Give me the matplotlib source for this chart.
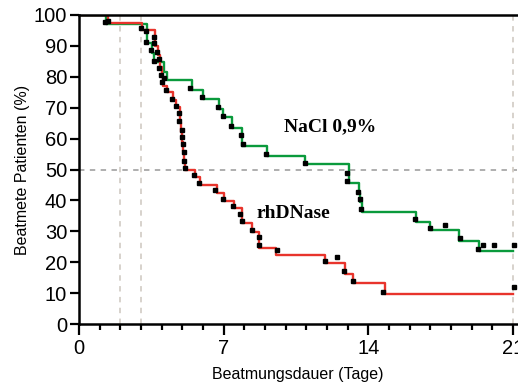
import matplotlib
matplotlib.use("Agg")
import matplotlib.pyplot as plt
from matplotlib.ticker import MultipleLocator

# Kaplan-Meier steps (days, % still ventilated)
nacl_t = [0, 1.3, 3.28, 3.52, 3.65, 4.12, 4.28, 5.45, 5.98, 6.77, 6.97, 7.4,
          7.9, 9.1, 10.95, 13.05, 13.55, 13.62, 13.7, 16.3, 17.0, 18.4, 19.35, 21]
nacl_s = [100, 97.0, 90.8, 87.6, 84.9, 81.7, 79.0, 75.7, 72.7, 69.5, 66.9, 63.3,
          57.7, 54.4, 51.7, 45.5, 42.3, 39.4, 36.4, 33.1, 30.4, 27.0, 23.7, 23.7]

dnase_t = [0, 1.4, 3.04, 3.7, 3.8, 3.9, 4.0, 4.05, 4.25, 4.57, 4.68, 4.9, 4.95,
           5.0, 5.05, 5.1, 5.15, 5.63, 5.87, 6.67, 7.03, 7.5, 7.87, 8.38, 8.72,
           9.54, 11.9, 12.86, 13.25, 14.8, 21]
dnase_s = [100, 97.3, 95.1, 90.0, 87.0, 83.3, 80.1, 77.0, 75.2, 72.5, 70.1, 65.0,
           62.0, 59.0, 56.0, 53.0, 50.0, 47.7, 45.0, 42.5, 39.9, 37.4, 32.6, 29.9,
           24.7, 22.3, 19.6, 16.2, 13.2, 9.7, 9.7]

# censored observations (black squares)
cens_x = [1.42, 1.26, 3.0, 3.25, 3.64, 3.64, 3.25, 3.48, 3.77, 3.86, 3.64, 3.86,
          3.96, 4.1, 4.0, 4.2, 4.49, 4.69, 4.85, 4.85, 5.0, 5.0, 5.03, 5.1, 5.1,
          5.15, 5.57, 5.35, 5.97, 6.75, 5.8, 6.57, 6.97, 7.46, 7.8, 7.87, 8.35,
          8.69, 8.69, 9.56, 11.89, 12.5, 12.83, 13.25, 14.73, 9.06, 10.93, 12.95,
          12.95, 13.5, 13.58, 13.66, 6.97, 7.37, 7.84, 7.94, 16.27, 17.0, 17.73,
          18.46, 19.33, 19.57, 20.1, 21.07, 21.06]
cens_y = [98.2, 97.6, 95.9, 94.8, 92.9, 91.0, 91.3, 88.7, 88.1, 85.9, 85.1, 83.0,
          80.6, 79.5, 78.2, 75.7, 72.8, 70.6, 68.2, 65.8, 62.8, 60.6, 58.3, 55.8,
          52.9, 50.6, 48.2, 76.4, 73.5, 70.2, 45.7, 43.5, 40.5, 38.2, 35.6, 33.3,
          30.5, 28.2, 25.7, 24.1, 20.5, 21.8, 17.3, 13.9, 10.4, 55.0, 52.0, 49.0,
          46.2, 42.7, 40.4, 37.2, 67.4, 64.1, 61.2, 58.3, 34.0, 31.1, 32.0, 27.8,
          24.3, 25.6, 25.6, 25.6, 12.0]

green = "#0a9a3c"
red = "#e8342c"

fig = plt.figure(figsize=(5.18, 3.82), dpi=100)
ax = fig.add_axes([79 / 518, 58 / 382, 438 / 518, 309 / 382])

# reference lines
ax.axhline(50, color="#a8a8a8", lw=1.3, ls=(0, (3, 3)), zorder=1)
for xv in [2, 3, 21]:
    ax.axvline(xv, color="#d4cfc8", lw=1.3, ls=(0, (3, 3)), zorder=1)

ax.step(nacl_t, nacl_s, where="post", color=green, lw=1.7, zorder=2)
ax.step(dnase_t, dnase_s, where="post", color=red, lw=1.7, zorder=2)
ax.plot(cens_x, cens_y, ls="none", marker="s", ms=3.5, color="black",
        clip_on=False, zorder=3)

ax.text(9.9, 63.8, "NaCl 0,9%", family="Liberation Serif", fontweight="bold",
        fontsize=14, va="center", ha="left")
ax.text(8.6, 35.9, "rhDNase", family="Liberation Serif", fontweight="bold",
        fontsize=14, va="center", ha="left")

ax.set_xlim(0, 21.2)
ax.set_ylim(0, 100)
ax.xaxis.set_major_locator(MultipleLocator(7))
ax.xaxis.set_minor_locator(MultipleLocator(1))
ax.yaxis.set_major_locator(MultipleLocator(10))

for side in ["left", "bottom", "top"]:
    ax.spines[side].set_linewidth(1.8)
ax.spines["right"].set_visible(False)

ax.tick_params(axis="x", which="major", direction="out", length=8, width=1.6,
               labelsize=14.5, pad=3)
ax.tick_params(axis="x", which="minor", direction="out", length=4, width=1.6)
ax.tick_params(axis="y", which="major", direction="out", length=6.5, width=1.6,
               labelsize=14.5, pad=2)
for lab in ax.get_xticklabels() + ax.get_yticklabels():
    lab.set_family("Liberation Sans")

ax.set_xlabel("Beatmungsdauer (Tage)", family="Liberation Sans", fontsize=11.5,
              labelpad=6.5)
ax.set_ylabel("Beatmete Patienten (%)", family="Liberation Sans", fontsize=11.5,
              labelpad=3)

fig.savefig("out.png", dpi=100)
